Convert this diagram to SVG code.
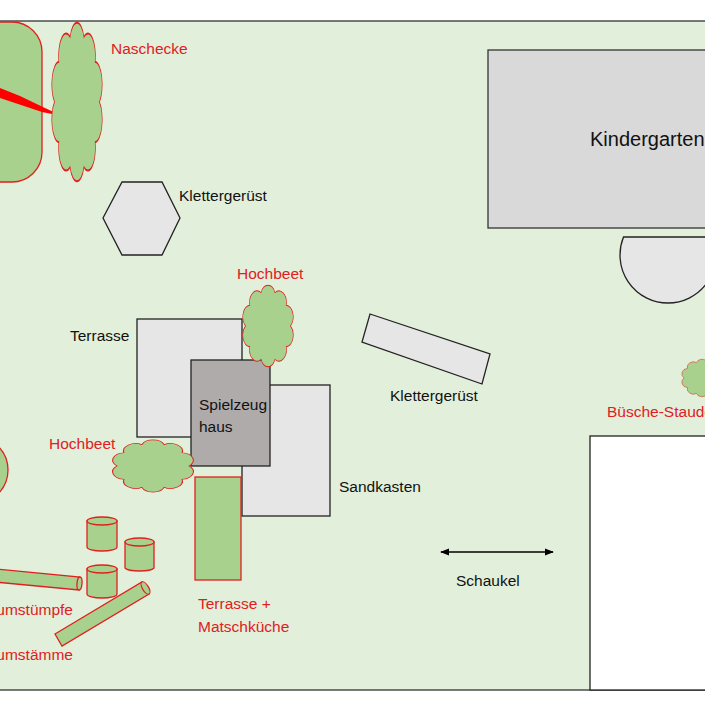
<svg xmlns="http://www.w3.org/2000/svg" xmlns:xlink="http://www.w3.org/1999/xlink" width="705" height="705" viewBox="0 0 705 705">
<style>
text{font-family:"Liberation Sans",Arial,sans-serif;font-size:15.5px;fill:#111}
.r{fill:#e0201f}
.g{fill:#a9d18e;stroke:#e0201f;stroke-width:1.3}
.gr{fill:#e7e6e6;stroke:#222;stroke-width:1.3}
.cl{fill:#a9d18e;stroke:#e0201f;stroke-width:1.3;vector-effect:non-scaling-stroke}
</style>
<defs>
<path id="cloud" d="M95 50 A15 15 0 0 1 86.4 76.5 A15 15 0 0 1 63.9 92.8 A15 15 0 0 1 36.1 92.8 A15 15 0 0 1 13.6 76.5 A15 15 0 0 1 5 50 A15 15 0 0 1 13.6 23.5 A15 15 0 0 1 36.1 7.2 A15 15 0 0 1 63.9 7.2 A15 15 0 0 1 86.4 23.5 A15 15 0 0 1 95 50 Z"/>
<marker id="ah" viewBox="0 0 10 10" refX="9" refY="5" markerWidth="7" markerHeight="7" orient="auto-start-reverse"><path d="M0 1 L10 5 L0 9 Z" fill="#000"/></marker>
</defs>
<rect width="705" height="705" fill="#fff"/>
<rect x="-2" y="21" width="710" height="669" fill="#e2efda" stroke="#333" stroke-width="1.3"/>
<g id="beet-left"><rect x="-40" y="22" width="82" height="160" rx="30" class="g"/></g>
<g id="red-line"><path d="M0 88 L20 96 L45 108 L62 116 L42 112 L18 104 L0 98 Z" fill="#ff0000"/></g>
<g id="naschecke"><g transform="translate(52,26) scale(0.5,1.52)"><use xlink:href="#cloud" class="cl"/></g><text x="111" y="54" class="r">Naschecke</text></g>
<g id="klettergeruest1"><polygon points="103,218 122,182 162,182 180,218 162,255 122,255" class="gr"/><text x="179" y="201">Klettergerüst</text></g>
<g id="kindergarten"><rect x="488" y="50" width="230" height="178" fill="#d9d9d9" stroke="#333" stroke-width="1.3"/><text x="590" y="146" style="font-size:20px">Kindergarten</text></g>
<g id="halbkreis"><path d="M623.5 237 A48 48 0 1 0 712.5 237 Z" class="gr"/></g>
<g id="terrasse"><rect x="137" y="319" width="105" height="118" class="gr"/><text x="70" y="341">Terrasse</text></g>
<g id="sandkasten"><rect x="242" y="385" width="88" height="131" class="gr"/><text x="339" y="492">Sandkasten</text></g>
<g id="spielzeughaus"><rect x="191" y="360" width="79" height="106" fill="#afabab" stroke="#222" stroke-width="1.3"/><text x="199" y="410">Spielzeug</text><text x="199" y="432">haus</text></g>
<g id="hochbeet1"><g transform="translate(243,287) scale(0.5,0.78)"><use xlink:href="#cloud" class="cl"/></g><text x="237" y="279" class="r">Hochbeet</text></g>
<g id="hochbeet2"><g transform="translate(113,441) scale(0.8,0.5)"><use xlink:href="#cloud" class="cl"/></g><text x="49" y="449" class="r">Hochbeet</text></g>
<g id="klettergeruest2"><polygon points="370,314 490,354 482,384 362,342" class="gr"/><text x="390" y="401">Klettergerüst</text></g>
<g id="buesche"><g transform="translate(682,360) scale(0.4,0.36)"><use xlink:href="#cloud" class="cl"/></g><text x="607" y="417" class="r">Büsche-Stauden</text></g>
<g id="beet-kreis"><ellipse cx="-22" cy="470" rx="30" ry="32" class="g"/></g>
<g id="matschkueche"><rect x="195" y="477" width="46" height="103" class="g"/><text x="198" y="609" class="r">Terrasse +</text><text x="198" y="632" class="r">Matschküche</text></g>
<g id="baumstuempfe">
<path d="M87 521 V547 A15 4 0 0 0 117 547 V521 Z" class="g"/><ellipse cx="102" cy="521" rx="15" ry="4" class="g"/>
<path d="M125 542 V568 A15 4 0 0 0 154 568 V542 Z" class="g"/><ellipse cx="139.5" cy="542" rx="14.5" ry="4" class="g"/>
<path d="M87 569 V594 A15 4 0 0 0 117 594 V569 Z" class="g"/><ellipse cx="102" cy="569" rx="15" ry="4" class="g"/>
<text x="73" y="615" class="r" text-anchor="end">Baumstümpfe</text></g>
<g id="baumstaemme">
<path d="M-5 569 L80 577 L79 590 L-5 582 Z" class="g"/><ellipse cx="79.5" cy="583.5" rx="2.5" ry="6.5" transform="rotate(5 79.5 583.5)" class="g"/>
<path d="M55 634 L142 582 L149 594 L62 646 Z" class="g"/><ellipse cx="145.5" cy="588" rx="3" ry="7" transform="rotate(-31 145.5 588)" class="g"/>
<text x="73" y="660" class="r" text-anchor="end">Baumstämme</text></g>
<g id="weiss"><rect x="590" y="436" width="130" height="254" fill="#fff" stroke="#222" stroke-width="1.3"/></g>
<g id="connectors"><line x1="441" y1="552" x2="553" y2="552" stroke="#000" stroke-width="1.3" marker-start="url(#ah)" marker-end="url(#ah)"/></g>
<g id="schaukel"><text x="456" y="586">Schaukel</text></g>
</svg>
